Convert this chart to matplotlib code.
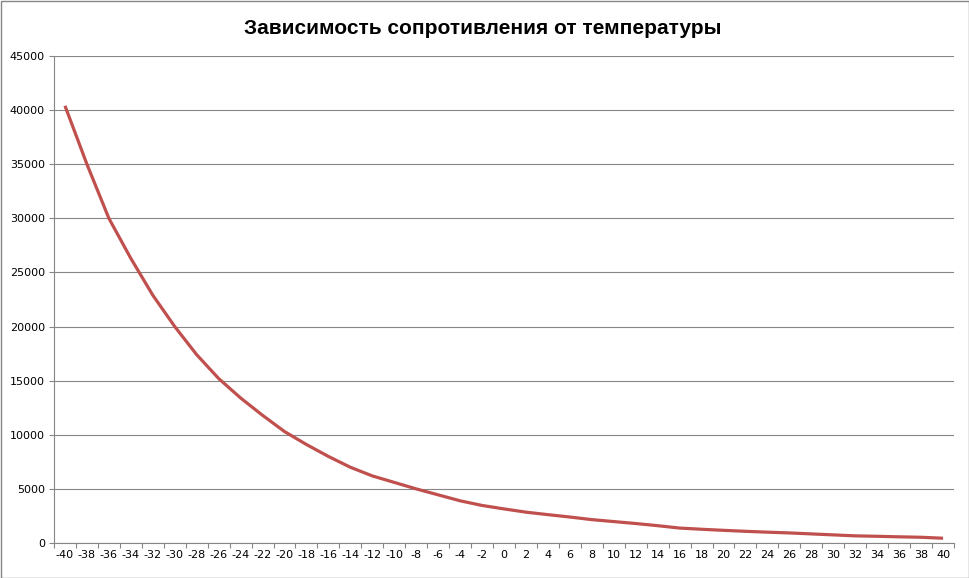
import numpy as np
import matplotlib
matplotlib.use("Agg")
import matplotlib.pyplot as plt
from matplotlib.patches import Rectangle

# температура, °C
temps = list(range(-40, 41, 2))
# сопротивление, Ом
resistance = [40400, 35000, 30000, 26300, 22900, 20000, 17400, 15200, 13400, 11800,
              10300, 9100, 8000, 7000, 6200, 5600, 5000, 4450, 3900, 3470,
              3150, 2850, 2620, 2400, 2160, 1980, 1800, 1600, 1380, 1270,
              1170, 1080, 1000, 930, 840, 750, 660, 620, 570, 530, 440]

title = 'Зависимость сопротивления от температуры'
y_ticks = np.arange(0, 45001, 5000)

W, H = 970, 578
fig = plt.figure(figsize=(W / 100, H / 100), dpi=100)

# рамка области диаграммы
fig.patches.append(Rectangle((0.5 / W, 0.5 / H), 1 - 1.5 / W, 1 - 1.5 / H,
                             transform=fig.transFigure, fill=False,
                             edgecolor='#868686', lw=1.0))

left, right, top, bottom = 54, 954, 56, 543
ax = fig.add_axes([left / W, (H - bottom) / H, (right - left) / W, (bottom - top) / H])

x = np.arange(len(temps))
ax.plot(x, resistance, color='#C0504D', lw=2.3, solid_capstyle='butt', zorder=3)

ax.set_xlim(-0.5, len(temps) - 0.5)
ax.set_ylim(0, 45000)
ax.set_yticks(y_ticks)
ax.set_yticklabels([str(v) for v in y_ticks])
ax.set_xticks(x)
ax.set_xticklabels([str(t) for t in temps])
ax.set_xticks(np.arange(-0.5, len(temps), 1.0), minor=True)

ax.grid(axis='y', color='#868686', lw=0.8, zorder=1)
ax.tick_params(axis='y', direction='out', length=3.5, width=0.8, color='#868686',
               labelsize=8, pad=3)
ax.tick_params(axis='x', which='major', length=0, labelsize=8, pad=5)
ax.tick_params(axis='x', which='minor', direction='out', length=3.5, width=0.8,
               color='#868686')

for side in ('top', 'right'):
    ax.spines[side].set_visible(False)
for side in ('left', 'bottom'):
    ax.spines[side].set_color('#868686')
    ax.spines[side].set_linewidth(0.8)

fig.text(0.498, 1 - 28 / H, title, ha='center', va='center',
         fontsize=15, fontweight='bold', family='Liberation Sans')

fig.savefig('out.png', dpi=100)
